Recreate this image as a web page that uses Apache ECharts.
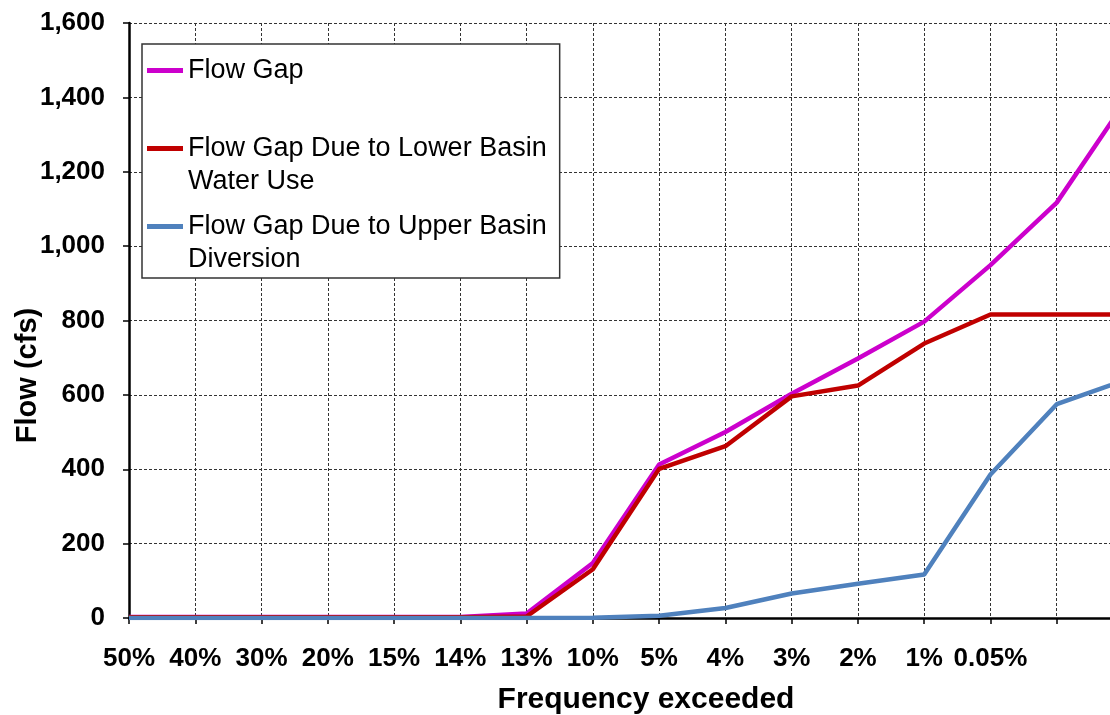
<!DOCTYPE html>
<html lang="en">
<head>
    <meta charset="UTF-8">
    <title>Flow Gap</title>
    <script src="https://cdn.jsdelivr.net/npm/echarts@6/dist/echarts.min.js"></script>
    <style>
        html, body { margin: 0; padding: 0; background: #fff; }
        #main { width: 1110px; height: 715px; }
    </style>
</head>
<body>
<div id="main"></div>
<script>
    // categories on the x axis (last two have no label)
    var categories = ['50%', '40%', '30%', '20%', '15%', '14%', '13%', '10%', '5%', '4%', '3%', '2%', '1%', '0.05%', '', ''];

    // series values, cfs
    var flowGap = [3, 3, 3, 3, 3, 3, 12, 148, 413, 500, 603, 698, 797, 949, 1117, 1380];
    var lowerBasin = [2, 2, 2, 2, 2, 2, 4, 131, 401, 462, 596, 625, 738, 816, 816, 816];
    var upperBasin = [0, 0, 0, 0, 0, 0, 0, 1, 6, 27, 66, 92, 117, 386, 575, 638];

    var seriesNames = ['Flow Gap', 'Flow Gap Due to Lower Basin Water Use', 'Flow Gap Due to Upper Basin Diversion'];
    // how each legend entry wraps
    var legendLabels = {
        'Flow Gap': 'Flow Gap\n ',
        'Flow Gap Due to Lower Basin Water Use': 'Flow Gap Due to Lower Basin\nWater Use',
        'Flow Gap Due to Upper Basin Diversion': 'Flow Gap Due to Upper Basin\nDiversion'
    };
    var colors = ['#CC00CC', '#C00000', '#4F81BD'];

    var font = "'Liberation Sans', Arial, sans-serif";
    var chart = echarts.init(document.getElementById('main'));

    function lineSeries(i, data) {
        return {
            name: seriesNames[i],
            type: 'line',
            data: data,
            symbol: 'none',
            lineStyle: { color: colors[i], width: 4.5 },
            itemStyle: { color: colors[i] },
            z: 3 + i
        };
    }

    var option = {
        animation: false,
        color: colors,
        textStyle: { fontFamily: font },
        // plot runs past the right edge, the last point is cut off like in the original
        grid: { left: 129, right: -13, top: 23, bottom: 97, containLabel: false, outerBoundsMode: 'none' },
        legend: {
            orient: 'vertical',
            left: 142,
            top: 44,
            padding: [10, 13, 2, 5],
            itemGap: 12,
            itemWidth: 36,
            itemHeight: 66,
            // line sits on the first text row
            icon: 'path://M0,0M0,14H36V19H0ZM36,66',
            backgroundColor: '#fff',
            borderColor: '#333',
            borderWidth: 1.5,
            z: 10,
            data: seriesNames,
            formatter: function (name) { return legendLabels[name]; },
            textStyle: { fontFamily: font, fontSize: 27, color: '#000', lineHeight: 33 }
        },
        xAxis: {
            type: 'category',
            data: categories,
            boundaryGap: false,
            name: 'Frequency exceeded',
            nameLocation: 'middle',
            nameGap: 67,
            nameMoveOverlap: false,
            nameTextStyle: { fontFamily: font, fontSize: 30, fontWeight: 'bold', color: '#000', padding: [0, 0, 0, 40] },
            axisLine: { show: true, lineStyle: { color: '#000', width: 2.5 } },
            axisTick: { show: true, length: 6, lineStyle: { color: '#000', width: 1.5 } },
            axisLabel: { interval: 0, margin: 28, fontFamily: font, fontSize: 26, fontWeight: 'bold', color: '#000' },
            splitLine: { show: true, lineStyle: { color: '#333', width: 1, type: [3, 2] } }
        },
        yAxis: {
            type: 'value',
            min: 0,
            max: 1600,
            interval: 200,
            name: 'Flow (cfs)',
            nameLocation: 'middle',
            nameGap: 87,
            nameRotate: 90,
            nameMoveOverlap: false,
            nameTextStyle: { fontFamily: font, fontSize: 29, fontWeight: 'bold', color: '#000', padding: [0, 110, 0, 0] },
            axisLine: { show: true, lineStyle: { color: '#000', width: 2.5 } },
            axisTick: { show: true, length: 6, lineStyle: { color: '#000', width: 1.5 } },
            axisLabel: {
                margin: 24, fontFamily: font, fontSize: 26, fontWeight: 'bold', color: '#000',
                formatter: function (v) { return v.toLocaleString('en-US'); }
            },
            splitLine: { show: true, lineStyle: { color: '#333', width: 1, type: [3, 2] } }
        },
        series: [
            lineSeries(0, flowGap),
            lineSeries(1, lowerBasin),
            lineSeries(2, upperBasin)
        ]
    };

    chart.setOption(option);
</script>
</body>
</html>
